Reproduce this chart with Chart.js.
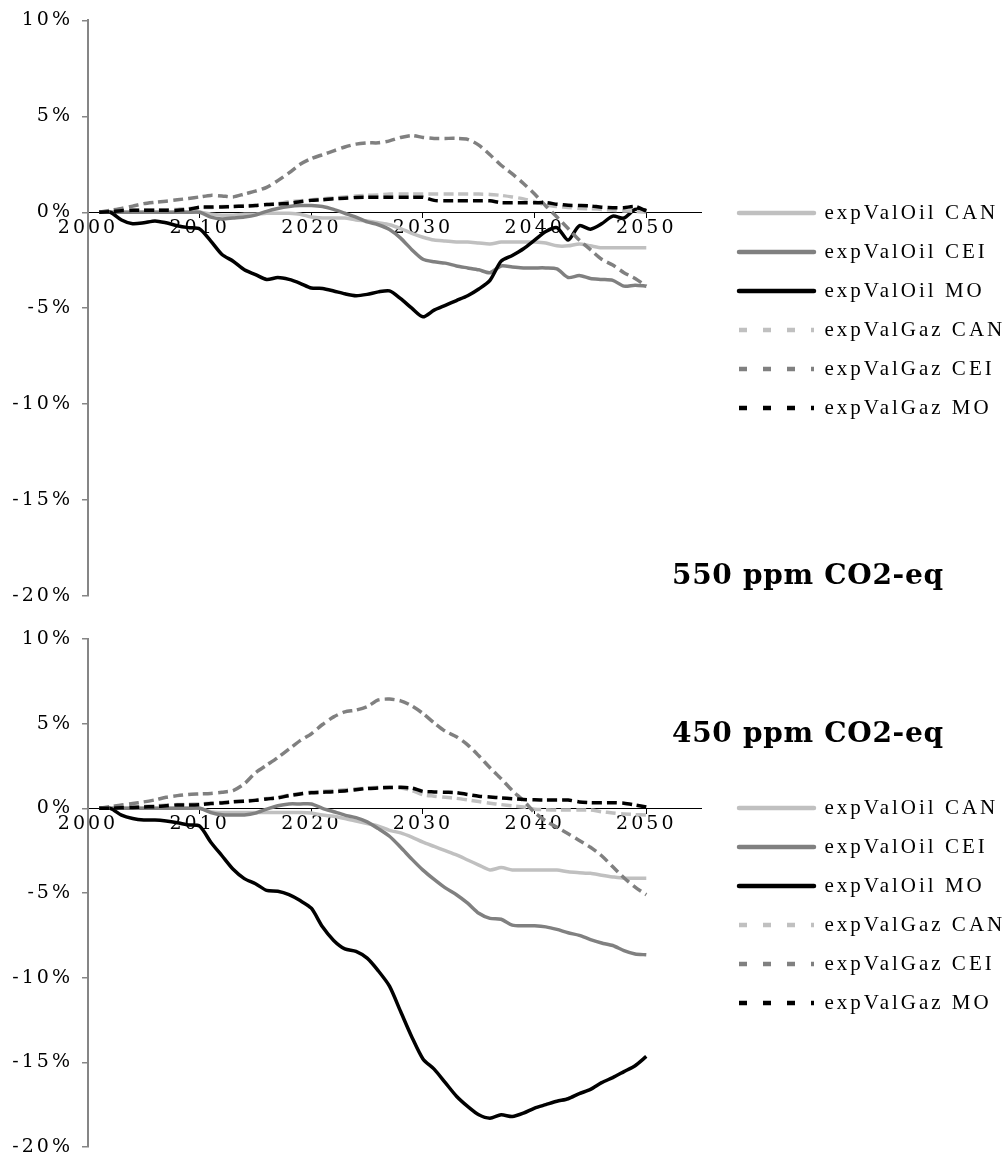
<!DOCTYPE html>
<html>
<head>
<meta charset="utf-8">
<script src="https://cdn.jsdelivr.net/npm/chart.js@4.4.0/dist/chart.umd.min.js"></script>
<style>
  body { margin: 0; background: #fff; }
  #wrap { position: relative; width: 1007px; height: 1157px; overflow: hidden; }
  canvas { position: absolute; left: 0; }
  .tag { position: absolute; left: 672px; font: bold 28px "DejaVu Serif"; letter-spacing: 0.7px; line-height: 32px; white-space: nowrap; color: #000; }
</style>
</head>
<body>
<div id="wrap">
  <canvas id="c550" width="1007" height="620" style="top:0"></canvas>
  <canvas id="c450" width="1007" height="570" style="top:600px"></canvas>
  <div class="tag" style="top:559px">550 ppm CO2-eq</div>
  <div class="tag" style="top:717px">450 ppm CO2-eq</div>
</div>
<script>
// years on the x axis
var years = [2001,2002,2003,2004,2005,2006,2007,2008,2009,2010,
             2011,2012,2013,2014,2015,2016,2017,2018,2019,2020,
             2021,2022,2023,2024,2025,2026,2027,2028,2029,2030,
             2031,2032,2033,2034,2035,2036,2037,2038,2039,2040,
             2041,2042,2043,2044,2045,2046,2047,2048,2049,2050];

var names = ["expValOil CAN", "expValOil CEI", "expValOil MO", "expValGaz CAN", "expValGaz CEI", "expValGaz MO"];
var colors = ["#c0c0c0", "#808080", "#000000", "#c0c0c0", "#808080", "#000000"];

// 550 ppm CO2-eq (values in %)
var oil550CAN = [0,0,0,0,0,0,0,0,0,0,
  -0.1,-0.15,-0.15,-0.1,-0.1,-0.05,-0.05,-0.05,-0.1,-0.25,
  -0.3,-0.3,-0.3,-0.4,-0.45,-0.55,-0.65,-0.85,-1.1,-1.3,
  -1.45,-1.5,-1.55,-1.55,-1.6,-1.65,-1.55,-1.55,-1.55,-1.55,
  -1.6,-1.75,-1.75,-1.65,-1.75,-1.85,-1.85,-1.85,-1.85,-1.85];
var oil550CEI = [0,0,0,0,0,0,0,0,0,0,
  -0.25,-0.35,-0.3,-0.25,-0.15,0.05,0.2,0.3,0.35,0.35,
  0.3,0.15,-0.05,-0.25,-0.5,-0.65,-0.9,-1.35,-1.95,-2.45,
  -2.58,-2.65,-2.8,-2.9,-3.0,-3.15,-2.8,-2.85,-2.9,-2.9,
  -2.9,-2.95,-3.4,-3.3,-3.45,-3.5,-3.55,-3.85,-3.8,-3.85];
var oil550MO = [0,0,-0.4,-0.6,-0.55,-0.45,-0.55,-0.7,-0.8,-0.87,
  -1.5,-2.2,-2.55,-3.0,-3.25,-3.5,-3.4,-3.5,-3.7,-3.95,
  -3.97,-4.1,-4.25,-4.35,-4.28,-4.15,-4.1,-4.5,-5.0,-5.45,
  -5.1,-4.85,-4.6,-4.35,-4.0,-3.55,-2.55,-2.25,-1.9,-1.45,
  -1.0,-0.8,-1.45,-0.7,-0.88,-0.6,-0.2,-0.3,0.15,0.1];
var gaz550CAN = [0,0.03,0.08,0.1,0.12,0.12,0.12,0.15,0.2,0.25,
  0.25,0.3,0.3,0.35,0.35,0.4,0.45,0.55,0.6,0.65,
  0.7,0.75,0.8,0.85,0.88,0.9,0.95,0.95,0.95,0.95,
  0.95,0.95,0.95,0.95,0.95,0.93,0.88,0.8,0.7,0.55,
  0.38,0.3,0.25,0.2,0.18,0.15,0.1,0.07,0.05,0.0];
var gaz550CEI = [0,0.1,0.2,0.32,0.45,0.52,0.58,0.65,0.72,0.8,
  0.88,0.85,0.8,0.95,1.1,1.3,1.65,2.05,2.5,2.8,
  3.0,3.2,3.4,3.55,3.62,3.62,3.72,3.9,4.0,3.9,
  3.85,3.85,3.85,3.8,3.5,3.0,2.45,2.0,1.5,0.95,
  0.33,-0.25,-0.85,-1.45,-1.95,-2.45,-2.75,-3.15,-3.45,-3.85];
var gaz550MO = [0,0.03,0.08,0.1,0.1,0.1,0.1,0.1,0.15,0.27,
  0.27,0.28,0.3,0.32,0.35,0.4,0.43,0.47,0.55,0.62,
  0.65,0.7,0.73,0.77,0.78,0.78,0.78,0.78,0.78,0.78,
  0.62,0.6,0.6,0.6,0.6,0.6,0.5,0.5,0.5,0.5,
  0.5,0.42,0.36,0.35,0.33,0.26,0.24,0.24,0.3,0.07];

// 450 ppm CO2-eq (values in %)
var oil450CAN = [0,0,0,0,0,0,0,0,0,0,
  -0.2,-0.25,-0.25,-0.25,-0.25,-0.25,-0.25,-0.25,-0.25,-0.28,
  -0.4,-0.47,-0.6,-0.75,-0.9,-1.05,-1.3,-1.45,-1.7,-2.0,
  -2.25,-2.5,-2.75,-3.05,-3.35,-3.64,-3.5,-3.64,-3.64,-3.64,
  -3.64,-3.64,-3.75,-3.8,-3.84,-3.95,-4.05,-4.13,-4.13,-4.13];
var oil450CEI = [0,0,0,0,0,0,0,0,0,0,
  -0.25,-0.38,-0.39,-0.39,-0.28,-0.05,0.15,0.26,0.26,0.26,
  0.0,-0.2,-0.4,-0.55,-0.8,-1.2,-1.65,-2.3,-3.0,-3.65,
  -4.2,-4.7,-5.1,-5.6,-6.2,-6.5,-6.55,-6.9,-6.94,-6.94,
  -7.0,-7.15,-7.35,-7.5,-7.75,-7.95,-8.1,-8.4,-8.6,-8.65];
var oil450MO = [0,0,-0.4,-0.6,-0.69,-0.69,-0.75,-0.85,-0.98,-1.05,
  -2.0,-2.8,-3.6,-4.15,-4.45,-4.85,-4.9,-5.1,-5.45,-5.9,
  -7.0,-7.8,-8.3,-8.45,-8.85,-9.6,-10.5,-12.0,-13.5,-14.8,
  -15.4,-16.2,-17.0,-17.6,-18.1,-18.3,-18.1,-18.2,-18.0,-17.7,
  -17.5,-17.3,-17.15,-16.85,-16.6,-16.2,-15.9,-15.55,-15.2,-14.65];
var gaz450CAN = [0,0.02,0.05,0.08,0.12,0.15,0.2,0.22,0.24,0.26,
  0.3,0.35,0.4,0.45,0.5,0.58,0.66,0.78,0.88,0.96,
  1.0,1.05,1.1,1.15,1.2,1.25,1.25,1.2,1.05,0.8,
  0.72,0.65,0.59,0.5,0.4,0.3,0.22,0.15,0.08,-0.05,
  -0.08,-0.1,-0.1,-0.1,-0.1,-0.2,-0.27,-0.33,-0.37,-0.4];
var gaz450CEI = [0,0.1,0.2,0.28,0.38,0.5,0.65,0.75,0.82,0.85,
  0.88,0.95,1.05,1.45,2.1,2.55,3.0,3.5,4.0,4.4,
  4.95,5.4,5.7,5.8,6.0,6.4,6.45,6.35,6.05,5.6,
  5.05,4.55,4.23,3.75,3.1,2.4,1.75,1.05,0.45,-0.25,
  -0.75,-1.12,-1.5,-1.9,-2.3,-2.8,-3.45,-4.1,-4.65,-5.1];
var gaz450MO = [0,0,0.03,0.05,0.08,0.1,0.15,0.2,0.2,0.22,
  0.28,0.32,0.38,0.42,0.47,0.55,0.62,0.75,0.85,0.92,
  0.95,0.98,1.03,1.1,1.17,1.2,1.23,1.24,1.2,1.0,
  0.97,0.95,0.93,0.82,0.72,0.67,0.62,0.57,0.52,0.5,
  0.49,0.49,0.49,0.38,0.33,0.33,0.33,0.3,0.2,0.08];

var tickFont = { family: "DejaVu Serif", size: 19 };

// canvas letter spacing, the reference text is spaced out
var spacing = {
  id: "spacing",
  beforeUpdate: function (chart) { chart.ctx.letterSpacing = "3px"; },
  beforeDraw: function (chart) { chart.ctx.letterSpacing = "3px"; }
};

function makeChart(id, series, legendGap, padTop, padBottom) {
  var datasets = series.map(function (d, i) {
    return {
      label: names[i],
      data: d,
      borderColor: colors[i],
      backgroundColor: colors[i],
      borderWidth: 3.5,
      borderDash: i < 3 ? [] : [10, 5],
      pointRadius: 0,
      tension: 0.25,
      order: 6 - i
    };
  });

  return new Chart(document.getElementById(id), {
    type: "line",
    data: { labels: years, datasets: datasets },
    options: {
      responsive: false,
      animation: false,
      devicePixelRatio: 1,
      layout: { padding: { top: padTop, bottom: padBottom, left: 0, right: 0 } },
      scales: {
        x: {
          type: "linear",
          min: 2000,
          max: 2054.9,
          position: { y: 0 },
          afterFit: function (s) { s.height = 0; },
          border: { color: "#000", width: 1 },
          grid: { drawOnChartArea: false, color: "#000", lineWidth: 1, tickLength: 5 },
          ticks: {
            stepSize: 10, includeBounds: false, padding: -1, color: "#000",
            font: tickFont, maxRotation: 0, autoSkip: false,
            callback: function (v) { return String(v); }
          }
        },
        y: {
          min: -20,
          max: 10,
          afterFit: function (s) { s.width = 88; },
          border: { color: "#868686", width: 2 },
          grid: { drawOnChartArea: false, color: "#868686", lineWidth: 1.5, tickLength: 6 },
          ticks: {
            stepSize: 5, padding: 9, color: "#000", font: tickFont,
            callback: function (v) { return v + "%"; }
          }
        },
        yR: {
          position: "right",
          grid: { display: false },
          border: { display: false },
          ticks: { display: false },
          afterFit: function (s) { s.width = 20; }
        }
      },
      plugins: {
        tooltip: { enabled: false },
        legend: {
          position: "right",
          align: "start",
          maxWidth: 286,
          title: { display: true, text: " ", font: { size: 10, lineHeight: 1 }, padding: { top: legendGap, bottom: 0 } },
          labels: {
            usePointStyle: true,
            pointStyle: "line",
            pointStyleWidth: 75,
            padding: 18,
            color: "#000",
            font: { family: "Liberation Serif", size: 21 },
            sort: function (a, b) { return a.datasetIndex - b.datasetIndex; },
            generateLabels: function (chart) {
              var items = Chart.defaults.plugins.legend.labels.generateLabels(chart);
              items.forEach(function (it) {
                var ds = chart.data.datasets[it.datasetIndex];
                var dashed = ds.borderDash && ds.borderDash.length;
                it.lineDash = dashed ? [8, 16] : [];
                it.lineCap = dashed ? "butt" : "round";
                it.lineWidth = 4.5;
              });
              return items;
            }
          }
        }
      }
    },
    plugins: [spacing]
  });
}

makeChart("c550", [oil550CAN, oil550CEI, oil550MO, gaz550CAN, gaz550CEI, gaz550MO], 155.5, 19, 24);
makeChart("c450", [oil450CAN, oil450CEI, oil450MO, gaz450CAN, gaz450CEI, gaz450MO], 130.5, 39, 23);
</script>
</body>
</html>
